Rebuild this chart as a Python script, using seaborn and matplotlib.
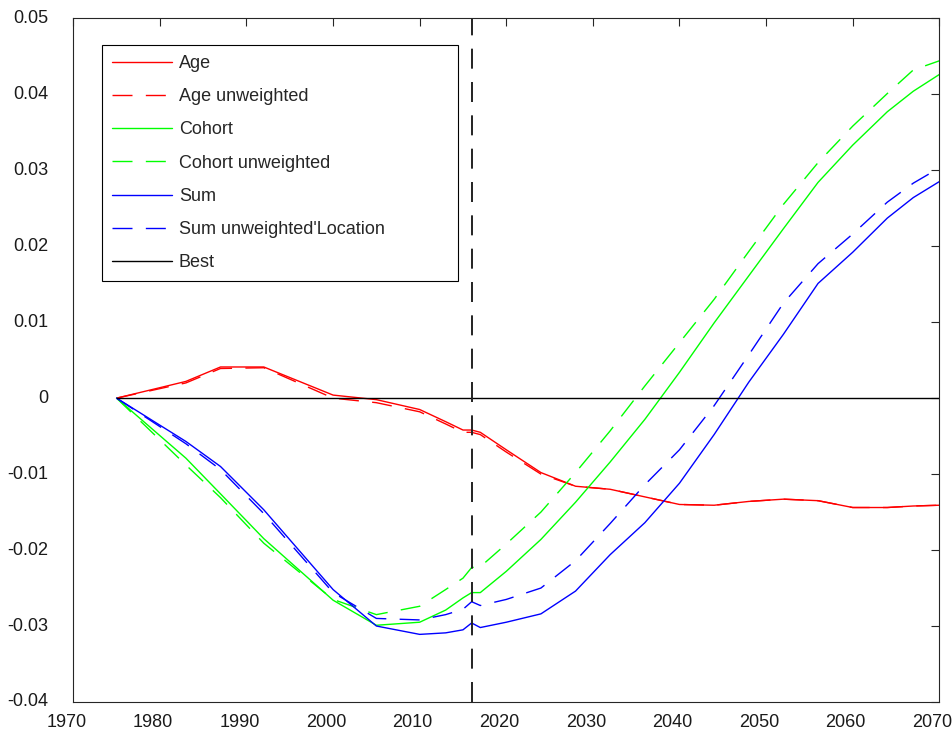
import matplotlib
matplotlib.use("Agg")
import matplotlib.pyplot as plt
import matplotlib.transforms as mtransforms
import seaborn as sns

# Decomposition of the effect over time (relative to 1975)
years = [1975, 1983, 1987, 1992, 2000, 2005, 2010, 2013, 2015, 2016, 2017, 2020,
         2024, 2028, 2032, 2036, 2040, 2044, 2048, 2052, 2056, 2060, 2064, 2067, 2070]

age = [0.0, 0.0022, 0.0041, 0.0041, 0.0004, -0.0002, -0.0015, -0.0031, -0.0042, -0.0042,
       -0.0045, -0.0068, -0.0098, -0.0116, -0.0120, -0.0130, -0.0140, -0.0141, -0.0136,
       -0.0133, -0.0135, -0.0144, -0.0144, -0.0142, -0.0141]
age_unweighted = [0.0, 0.0020, 0.0039, 0.0040, 0.0000, -0.0006, -0.0018, -0.0034, -0.0045,
                  -0.0045, -0.0048, -0.0071, -0.0100, -0.0116, -0.0120, -0.0130, -0.0140,
                  -0.0141, -0.0136, -0.0133, -0.0135, -0.0144, -0.0144, -0.0142, -0.0141]
cohort = [0.0, -0.0079, -0.0126, -0.0185, -0.0266, -0.0299, -0.0295, -0.0279, -0.0263,
          -0.0256, -0.0256, -0.0228, -0.0186, -0.0137, -0.0084, -0.0028, 0.0034, 0.0099,
          0.0161, 0.0223, 0.0284, 0.0333, 0.0377, 0.0404, 0.0426]
cohort_unweighted = [0.0, -0.0088, -0.0131, -0.0191, -0.0265, -0.0285, -0.0274, -0.0252,
                     -0.0237, -0.0223, -0.0222, -0.0192, -0.0150, -0.0098, -0.0043, 0.0016,
                     0.0073, 0.0130, 0.0193, 0.0255, 0.0310, 0.0358, 0.0401, 0.0432, 0.0444]
sum_weighted = [0.0, -0.0057, -0.0090, -0.0147, -0.0252, -0.0300, -0.0311, -0.0309, -0.0305,
                -0.0296, -0.0302, -0.0295, -0.0284, -0.0254, -0.0206, -0.0164, -0.0112,
                -0.0048, 0.0021, 0.0084, 0.0151, 0.0192, 0.0237, 0.0264, 0.0285]
sum_unweighted = [0.0, -0.0060, -0.0094, -0.0152, -0.0256, -0.0290, -0.0292, -0.0285, -0.0278,
                  -0.0268, -0.0273, -0.0265, -0.0250, -0.0214, -0.0165, -0.0114, -0.0068,
                  -0.0010, 0.0057, 0.0125, 0.0177, 0.0216, 0.0258, 0.0283, 0.0303]

best_years = [1975, 2070]
best_values = [0.0, 0.0]

forecast_start = 2016

xtick_values = [1970, 1980, 1990, 2000, 2010, 2020, 2030, 2040, 2050, 2060, 2070]
ytick_values = [-0.04, -0.03, -0.02, -0.01, 0.0, 0.01, 0.02, 0.03, 0.04, 0.05]
ytick_labels = ["-0.04", "-0.03", "-0.02", "-0.01", "0", "0.01", "0.02", "0.03", "0.04", "0.05"]

sns.set_style("white")
plt.rcParams["font.family"] = ["Liberation Sans", "DejaVu Sans"]
plt.rcParams["lines.scale_dashes"] = False

fig = plt.figure(figsize=(9.53, 7.38), dpi=100)
ax = fig.add_axes([0.0769, 0.0488, 0.9087, 0.9264])

dash = (0, (14.4, 9.6))
series = [
    (age, "Age", "#ff0000", "-"),
    (age_unweighted, "Age unweighted", "#ff0000", dash),
    (cohort, "Cohort", "#00ff00", "-"),
    (cohort_unweighted, "Cohort unweighted", "#00ff00", dash),
    (sum_weighted, "Sum", "#0000ff", "-"),
    (sum_unweighted, "Sum unweighted'Location", "#0000ff", dash),
]
for values, label, color, ls in series:
    sns.lineplot(x=years, y=values, ax=ax, color=color, linestyle=ls,
                 linewidth=1.0, label=label, estimator=None, sort=False)

sns.lineplot(x=best_years, y=best_values, ax=ax, color="black", linewidth=1.0,
             label="Best", estimator=None, sort=False)

ax.axvline(forecast_start, color="#222222", linewidth=1.4, linestyle=(0, (14.4, 9.6)))

ax.set_xlim(1970, 2070)
ax.set_ylim(-0.04, 0.05)
ax.set_xticks(xtick_values)
ax.set_xticklabels([str(v) for v in xtick_values])
ax.set_yticks(ytick_values)
ax.set_yticklabels(ytick_labels)
ax.set_xlabel("")
ax.set_ylabel("")

ax.tick_params(axis="both", which="both", direction="in", length=6, width=0.8,
               color="#262626", labelsize=13, labelcolor="#1a1a1a",
               top=True, right=True)
ax.tick_params(axis="y", pad=18)
ax.tick_params(axis="x", pad=9)
for spine in ax.spines.values():
    spine.set_color("#262626")
    spine.set_linewidth(0.8)

# small nudges of the tick labels
dx = mtransforms.ScaledTranslation(-7 / 100, 0, fig.dpi_scale_trans)
for lab in ax.get_xticklabels():
    lab.set_transform(lab.get_transform() + dx)
dy = mtransforms.ScaledTranslation(0, 2 / 100, fig.dpi_scale_trans)
for lab in ax.get_yticklabels():
    lab.set_transform(lab.get_transform() + dy)

leg = ax.legend(loc="upper left", bbox_to_anchor=(0.0331, 0.661, 0.4111, 0.3),
                mode="expand", borderaxespad=0, fontsize=13, frameon=True,
                fancybox=False, framealpha=1, edgecolor="black",
                handlelength=3.32, handletextpad=0.39, labelspacing=0.9,
                borderpad=0.55)
leg.get_frame().set_linewidth(0.8)

fig.savefig("out.png", dpi=100)
